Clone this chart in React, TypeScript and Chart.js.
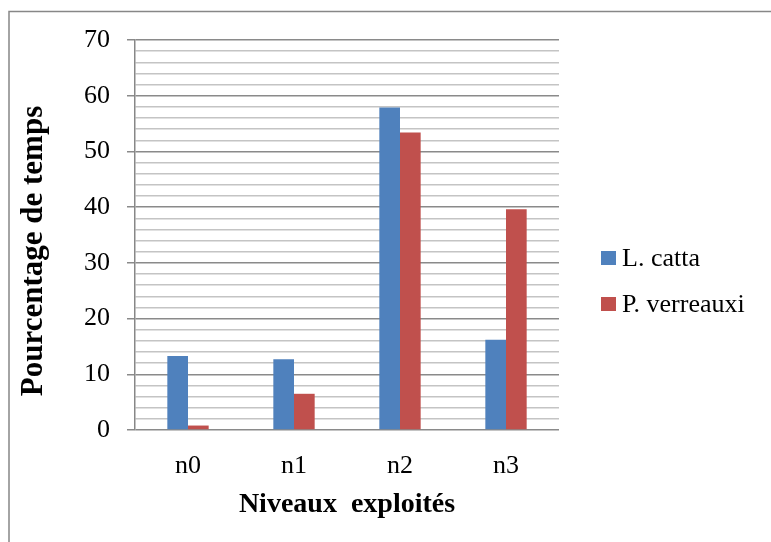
import React, { useEffect, useRef } from "react";
import { Chart, registerables } from "chart.js";

Chart.register(...registerables);

const categories = ["n0", "n1", "n2", "n3"];
const seriesNames = ["L. catta", "P. verreauxi"];
const lCatta = [13.3, 12.7, 57.9, 16.2];
const pVerreauxi = [0.8, 6.5, 53.4, 39.6];
const yTitle = "Pourcentage de temps";
const xTitle = "Niveaux  exploités";

const BLUE = "#4F81BD";
const RED = "#C0504D";
const SERIF = "'Liberation Serif', 'Times New Roman', serif";

const decorations = {
  id: "decorations",
  afterDraw(chart: any) {
    const { ctx, chartArea } = chart;
    const { left, right, top, bottom } = chartArea;
    ctx.save();

    // outer frame
    ctx.strokeStyle = "#878787";
    ctx.lineWidth = 1.5;
    ctx.strokeRect(9, 11.5, 900, 700);

    // axis titles
    ctx.fillStyle = "#000";
    ctx.font = `bold 28px ${SERIF}`;
    ctx.textAlign = "center";
    ctx.textBaseline = "middle";
    ctx.fillText(xTitle, (left + right) / 2, bottom + 75);

    ctx.save();
    ctx.font = `bold 31px ${SERIF}`;
    ctx.translate(left - 101, (top + bottom) / 2 + 16);
    ctx.rotate(-Math.PI / 2);
    ctx.fillText(yTitle, 0, 0);
    ctx.restore();

    // legend
    const colors = [BLUE, RED];
    ctx.font = `26px ${SERIF}`;
    ctx.textAlign = "left";
    ctx.textBaseline = "alphabetic";
    seriesNames.forEach((name, i) => {
      const baseY = (top + bottom) / 2 + 31 + i * 46;
      ctx.fillStyle = colors[i];
      ctx.fillRect(right + 42, baseY - 15, 15, 14);
      ctx.fillStyle = "#000";
      ctx.fillText(name, right + 63, baseY);
    });

    ctx.restore();
  },
};

export default function App() {
  const canvasRef = useRef<HTMLCanvasElement | null>(null);

  useEffect(() => {
    document.body.style.margin = "0";
    const canvas = canvasRef.current;
    if (!canvas) return;
    const chart = new Chart(canvas, {
      type: "bar",
      data: {
        labels: categories,
        datasets: [
          { label: seriesNames[0], data: lCatta, backgroundColor: BLUE, borderWidth: 0 },
          { label: seriesNames[1], data: pVerreauxi, backgroundColor: RED, borderWidth: 0 },
        ],
      },
      options: {
        animation: false,
        responsive: false,
        layout: { padding: { left: 0, top: 40, right: 212, bottom: 0 } },
        plugins: { legend: { display: false }, tooltip: { enabled: false } },
        datasets: { bar: { categoryPercentage: 0.39, barPercentage: 1 } },
        scales: {
          x: {
            grid: { display: false, drawTicks: false },
            border: { display: false },
            ticks: {
              color: "#000",
              padding: 21,
              font: { family: SERIF, size: 26 },
            },
            afterFit: (scale: any) => {
              scale.height = 112;
            },
          },
          y: {
            min: 0,
            max: 70,
            border: { display: true, color: "#878787", width: 1.5 },
            grid: {
              color: (c: any) => (c.tick && c.tick.value % 10 === 0 ? "#8a8a8a" : "#c4c4c4"),
              lineWidth: 1.5,
              tickLength: 8,
              tickColor: (c: any) => (c.tick && c.tick.value % 10 === 0 ? "#8a8a8a" : "rgba(0,0,0,0)"),
            },
            ticks: {
              stepSize: 2,
              autoSkip: false,
              maxTicksLimit: 100,
              color: "#000",
              padding: 17,
              font: { family: SERIF, size: 26 },
              callback: (v: any) => (Number(v) % 10 === 0 ? String(v) : ""),
            },
            afterFit: (scale: any) => {
              scale.width = 135;
            },
          },
        },
      },
      plugins: [decorations],
    });
    return () => chart.destroy();
  }, []);

  return (
    <div style={{ position: "absolute", left: 0, top: 0, width: 771, height: 542, background: "#fff" }}>
      <canvas ref={canvasRef} width={771} height={542} />
    </div>
  );
}
